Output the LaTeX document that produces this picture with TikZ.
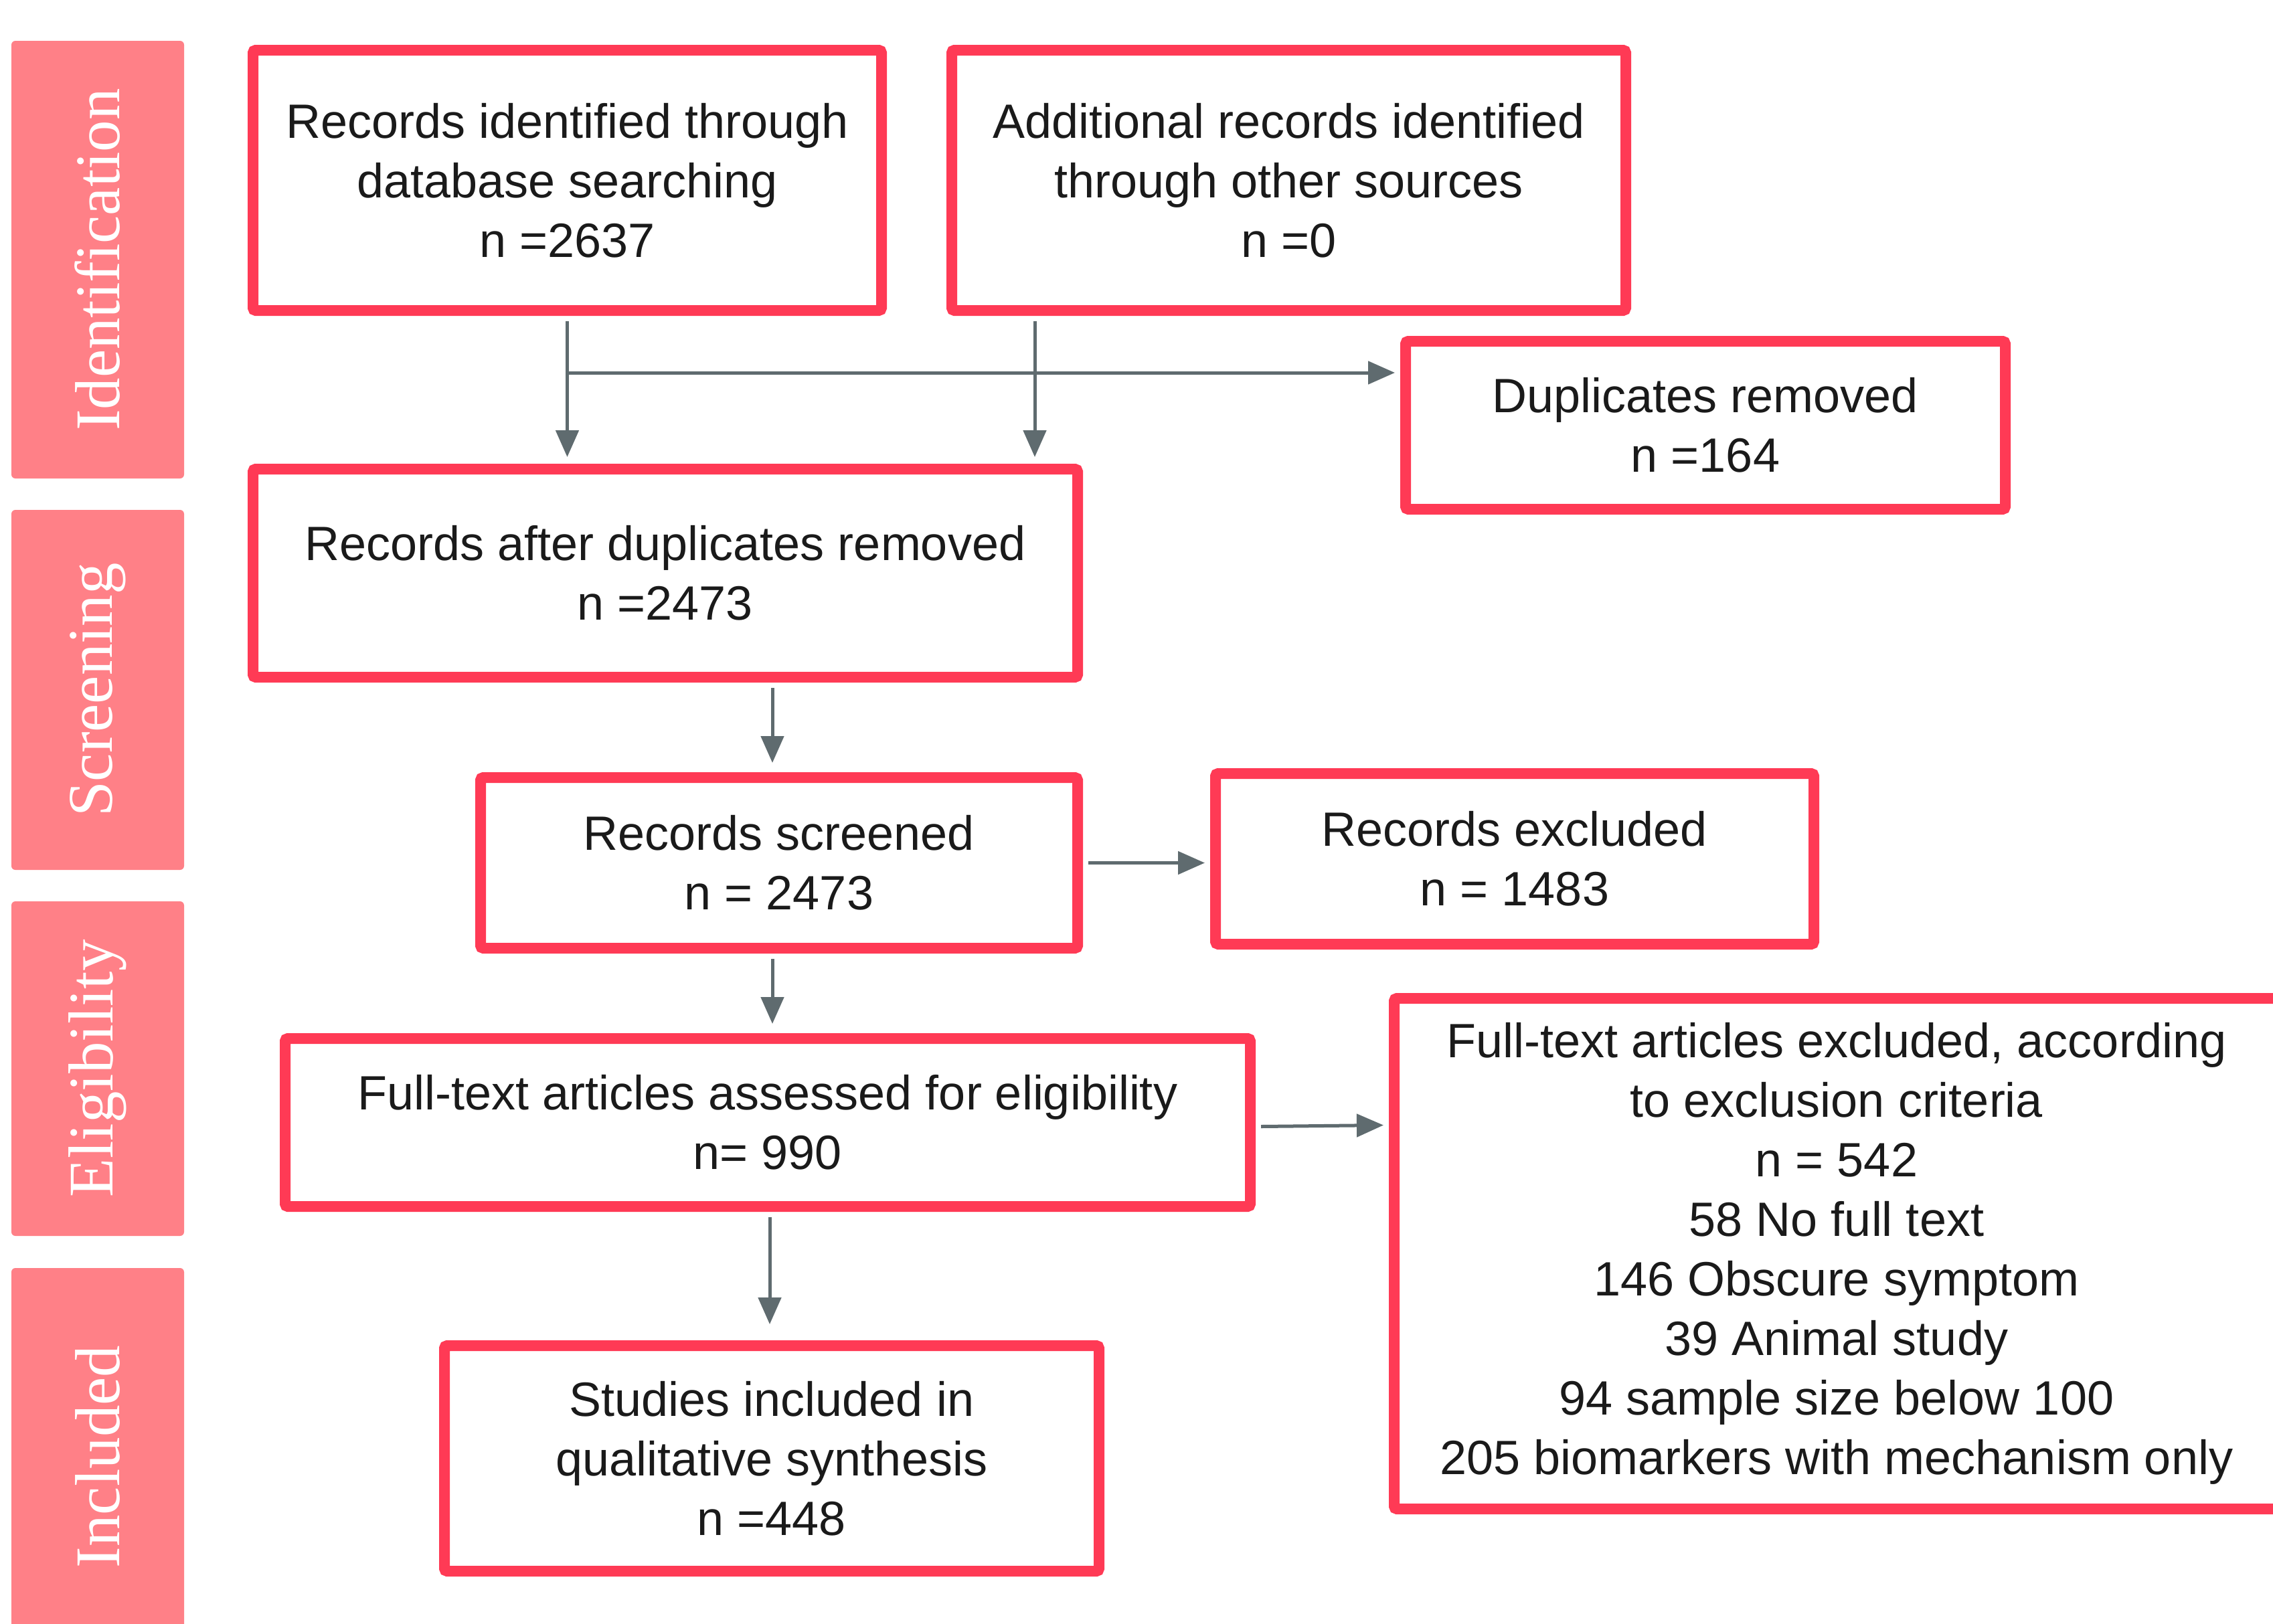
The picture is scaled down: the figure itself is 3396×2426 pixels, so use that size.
\documentclass[tikz,border=0pt]{standalone}
\usepackage{fontspec}
\setmainfont{Liberation Sans}
\newfontfamily\bandfont{Liberation Serif}
\usetikzlibrary{arrows.meta,calc}
\definecolor{boxred}{HTML}{FF3A55}
\definecolor{bandpink}{HTML}{FF8087}
\definecolor{arrowgray}{HTML}{5F6B6F}
\definecolor{txt}{HTML}{1A1A1A}
\begin{document}
\begin{tikzpicture}[x=1pt,y=-1pt,
  flowbox/.style={draw=boxred, line width=16pt, rounded corners=4pt, fill=white,
    text=txt, align=center, inner sep=0pt, font=\fontsize{72}{89}\selectfont},
  band/.style={fill=bandpink, rounded corners=6pt},
  bandlabel/.style={text=white, rotate=90, inner sep=0pt, font=\bandfont\fontsize{95}{100}\selectfont},
  conn/.style={draw=arrowgray, line width=5pt, -{Triangle[length=40pt,width=34pt]}}]
\useasboundingbox (0,0) rectangle (3396,2426);
\fill[white] (0,0) rectangle (3396,2426);

% phase bands
\fill[band] (17,61) rectangle (275,715);
\node[bandlabel] (lid) at (146,388) {Identification};
\fill[band] (17,762) rectangle (275,1300);
\node[bandlabel] (lsc) at (146,1031) {Screening};
\fill[band] (17,1347) rectangle (275,1847);
\node[bandlabel] (lel) at (146,1597) {Eligibility};
\fill[band] (17,1895) rectangle (275,2460);
\node[bandlabel] (lin) at (146,2177) {Included};

% boxes
\node[flowbox, minimum width=939, minimum height=389] (b1) at (847.5,269.5)
  {Records identified through\\database searching\\n =2637};
\node[flowbox, minimum width=1007, minimum height=389] (b2) at (1925.5,269.5)
  {Additional records identified\\through other sources\\n =0};
\node[flowbox, minimum width=896, minimum height=251] (b3) at (2548,635.5)
  {Duplicates removed\\n =164};
\node[flowbox, minimum width=1232, minimum height=311] (b4) at (994,856.5)
  {Records after duplicates removed\\n =2473};
\node[flowbox, minimum width=892, minimum height=255] (b5) at (1164,1289.5)
  {Records screened\\n = 2473};
\node[flowbox, minimum width=894, minimum height=255] (b6) at (2263,1283.5)
  {Records excluded\\n = 1483};
\node[flowbox, minimum width=1442, minimum height=251] (b7) at (1147,1677.5)
  {Full-text articles assessed for eligibility\\n= 990};
\node[flowbox, minimum width=1322, minimum height=763] (b8) at (2744,1873.5)
  {Full-text articles excluded, according\\to exclusion criteria\\n = 542\\58 No full text\\146 Obscure symptom\\39 Animal study\\94 sample size below 100\\205 biomarkers with mechanism only};
\node[flowbox, minimum width=978, minimum height=337] (b9) at (1153,2179.5)
  {Studies included in\\qualitative synthesis\\n =448};

% connectors
\coordinate (s1) at ($(b1.south)+(0,8)$);
\coordinate (s2) at (1546,480);
\coordinate (j1) at (847.5,557);
\draw[conn] (s1) -- ($(s1 |- b4.north)+(0,-10)$);
\draw[conn] (s2) -- ($(s2 |- b4.north)+(0,-10)$);
\draw[conn] (j1) -- ($(j1 -| b3.west)+(-8,0)$);
\coordinate (s4) at ($(b4.south)+(160,8)$);
\draw[conn] (s4) -- ($(s4 |- b5.north)+(0,-14)$);
\draw[conn] ($(b5.east)+(8,0)$) -- ($(b5.east -| b6.west)+(-8,0)$);
\coordinate (s5) at ($(b5.south)+(-10,8)$);
\draw[conn] (s5) -- ($(s5 |- b7.north)+(0,-14)$);
\draw[conn] ($(b7.east)+(8,6)$) -- ($(b7.east -| b8.west)+(-8,4)$);
\coordinate (s7) at ($(b7.south)+(3,8)$);
\draw[conn] (s7) -- ($(s7 |- b9.north)+(0,-24)$);
\end{tikzpicture}
\end{document}
